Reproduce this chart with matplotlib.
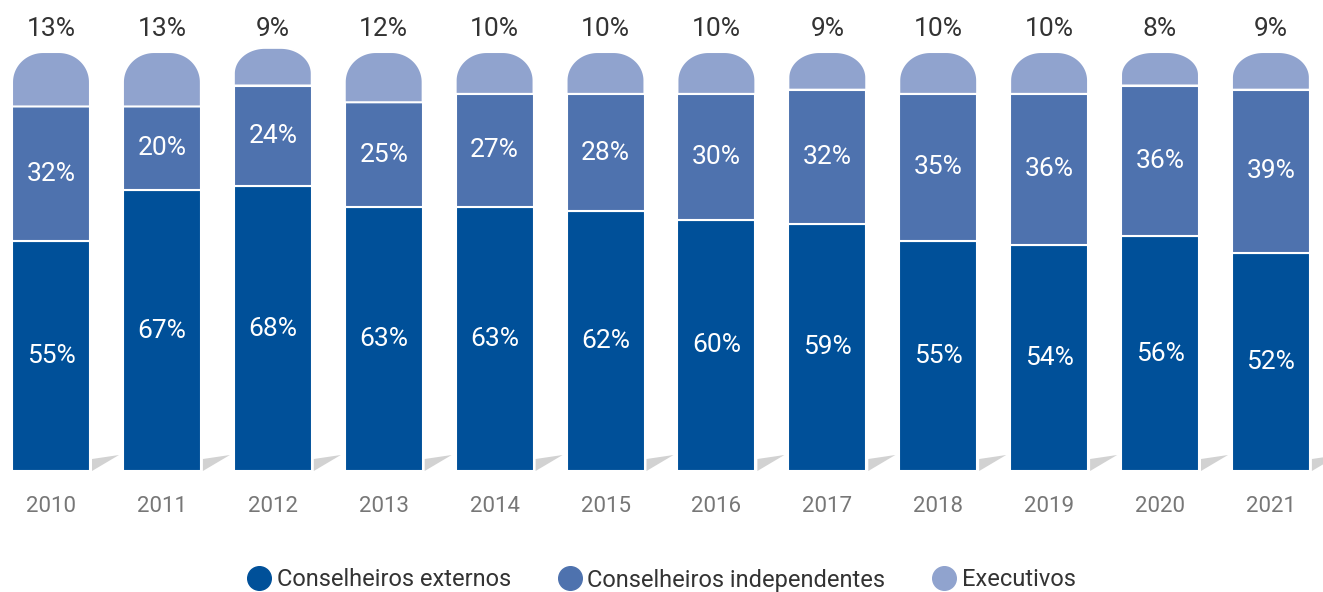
import numpy as np
import matplotlib
matplotlib.use("Agg")
import matplotlib.pyplot as plt
from matplotlib.patches import Polygon
from matplotlib.lines import Line2D

plt.rcParams['font.family'] = ['Roboto', 'DejaVu Sans']

years = ['2010', '2011', '2012', '2013', '2014', '2015',
         '2016', '2017', '2018', '2019', '2020', '2021']
externos = [55, 67, 68, 63, 63, 62, 60, 59, 55, 54, 56, 52]
independentes = [32, 20, 24, 25, 27, 28, 30, 32, 35, 36, 36, 39]
executivos = [13, 13, 9, 12, 10, 10, 10, 9, 10, 10, 8, 9]
series_names = ['Conselheiros externos', 'Conselheiros independentes', 'Executivos']

c_ext = '#005099'
c_ind = '#4E72AE'
c_exe = '#90A3CE'
c_shadow = '#D2D2D2'

W, H = 1323, 592
fig = plt.figure(figsize=(W / 100, H / 100), dpi=100)
ax = fig.add_axes([0, 0, 1, 1])

# pixel <-> data scale
x_px = 110.9                 # pixels per category step
y_px = 419 / 100.0           # pixels per percentage point
x0_px, y0_px = 51, 471       # first bar centre / baseline (from top)
ax.set_xlim(-x0_px / x_px, (W - x0_px) / x_px)
ax.set_ylim(-(H - y0_px) / y_px, y0_px / y_px)
ax.axis('off')

x = np.arange(len(years))
w = 78 / x_px
ext = np.array(externos, float)
ind = np.array(independentes, float)
exe = np.array(executivos, float)

ax.bar(x, ext, width=w, color=c_ext, edgecolor='white', linewidth=1.5, zorder=2)
ax.bar(x, ind, width=w, bottom=ext, color=c_ind, edgecolor='white', linewidth=1.5, zorder=2)


def rounded_top(xc, bottom, height, width, rx, ry):
    """Polygon for a box whose two upper corners are elliptical arcs."""
    ry = min(ry, height)
    left, right, top = xc - width / 2, xc + width / 2, bottom + height
    t = np.linspace(0, np.pi / 2, 40)
    rc = np.column_stack([right - rx + rx * np.cos(t), top - ry + ry * np.sin(t)])
    lc = np.column_stack([left + rx - rx * np.sin(t), top - ry + ry * np.cos(t)])
    return np.vstack([[right, bottom], rc, lc, [left, bottom]])


rx = 31 / x_px
for xi, b, h in zip(x, ext + ind, exe):
    ry = min(30, 0.68 * h * y_px) / y_px
    poly = Polygon(rounded_top(xi, b, h, w, rx, ry), closed=True,
                   facecolor=c_exe, edgecolor='white', linewidth=1.5, zorder=2)
    ax.add_patch(poly)

# small grey shadow wedge beside each bar base
for xi in x:
    xl = xi + w / 2 + 2 / x_px
    xr = xl + 27 / x_px
    tri = Polygon([[xl, 0], [xl, 12 / y_px], [xr, 16 / y_px]], closed=True,
                  facecolor=c_shadow, edgecolor='none', zorder=1)
    ax.add_patch(tri)

fs = 19
for xi, e, i, t in zip(x, ext, ind, exe):
    ax.text(xi, e / 2, f'{int(e)}%', ha='center', va='center', color='white',
            fontsize=fs, zorder=3)
    ax.text(xi, e + i / 2, f'{int(i)}%', ha='center', va='center', color='white',
            fontsize=fs, zorder=3)
    ax.text(xi, 100 + 23 / y_px, f'{int(t)}%', ha='center', va='center',
            color='#333333', fontsize=fs, zorder=3)
    ax.text(xi, -36 / y_px, years[xi], ha='center', va='center',
            color='#777777', fontsize=16, zorder=3)

handles = [Line2D([], [], marker='o', linestyle='none', markersize=17,
                  markerfacecolor=c, markeredgecolor=c)
           for c in (c_ext, c_ind, c_exe)]
fig.legend(handles, series_names, loc='center', bbox_to_anchor=(0.5, 1 - 580 / H),
           ncol=3, frameon=False, fontsize=17, handletextpad=0.25,
           columnspacing=2.0, handlelength=1.0, labelcolor='#333333')

fig.savefig('out.png', dpi=100)
